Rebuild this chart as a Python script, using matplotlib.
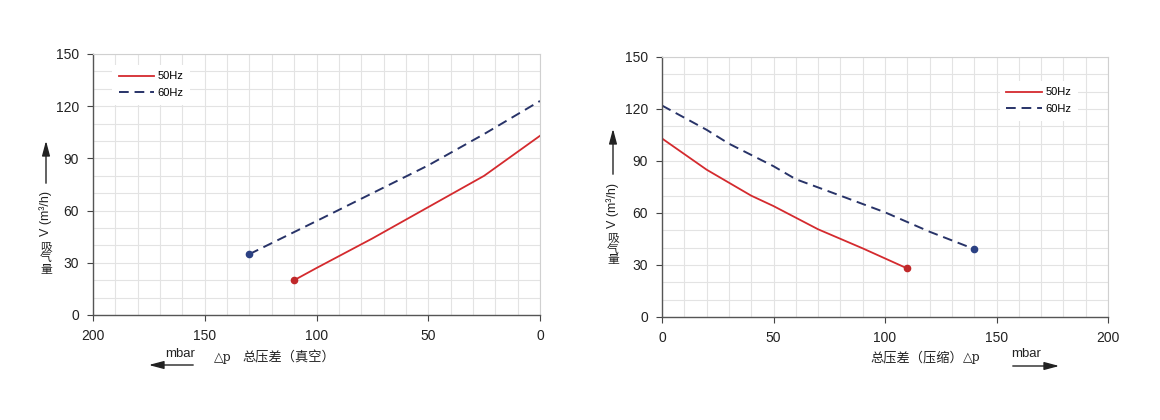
import matplotlib
matplotlib.use("Agg")
import matplotlib.pyplot as plt
from matplotlib.patches import FancyArrowPatch

plt.rcParams['font.family'] = ['Liberation Sans', 'Noto Sans CJK SC', 'DejaVu Sans']

# ---- data ----
vac_50_x = [110, 100, 75, 50, 25, 0]
vac_50_y = [20, 27, 44, 62, 80, 103]
vac_60_x = [130, 100, 75, 50, 25, 0]
vac_60_y = [35, 54, 70, 86, 104, 123]

comp_50_x = [0, 20, 40, 50, 70, 90, 110]
comp_50_y = [103, 85, 70, 64, 50.6, 39.6, 28]
comp_60_x = [0, 20, 30, 50, 60, 80, 100, 120, 140]
comp_60_y = [122, 108, 100, 87, 79.5, 70, 60.4, 49.2, 39.2]

series_labels = ["50Hz", "60Hz"]
x_ticks = [0, 50, 100, 150, 200]
y_ticks = [0, 30, 60, 90, 120, 150]
y_label_cjk = ["吸", "气", "量"]
y_label_unit = "V (m³/h)"
vac_label_sym = "△p"
vac_label = "总压差（真空）"
comp_label = "总压差（压缩）"
comp_label_sym = "△p"
unit_label = "mbar"

RED = "#d42a2e"
NAVY = "#283368"
RED_DOT = "#c0282a"
NAVY_DOT = "#2b4183"
TXT = "#222222"

fig = plt.figure(figsize=(11.6, 4.2), dpi=100)
W, H = 1160, 420

def fx(px):
    return px / W

def fy(py):
    return 1 - py / H

def style_axes(ax, invert):
    ax.set_xlim(200, 0) if invert else ax.set_xlim(0, 200)
    ax.set_ylim(0, 150)
    ax.set_xticks(x_ticks)
    ax.set_yticks(y_ticks)
    ax.set_xticks(range(0, 201, 10), minor=True)
    ax.set_yticks(range(0, 151, 10), minor=True)
    ax.grid(True, which='both', color='#e3e3e3', linewidth=0.8)
    ax.set_axisbelow(True)
    ax.tick_params(which='minor', length=0)
    ax.tick_params(which='major', direction='out', length=4, width=0.8,
                   color='#444444', labelsize=10, labelcolor=TXT, pad=6)
    for s in ['left', 'bottom']:
        ax.spines[s].set_color('#555555')
        ax.spines[s].set_linewidth(1.0)
    for s in ['top', 'right']:
        ax.spines[s].set_color('#d0d0d0')
        ax.spines[s].set_linewidth(0.8)

def arrow(x0, y0, x1, y1):
    a = FancyArrowPatch((fx(x0), fy(y0)), (fx(x1), fy(y1)), transform=fig.transFigure,
                        arrowstyle='-|>,head_length=9,head_width=2.4', color=TXT,
                        linewidth=1.0, mutation_scale=1)
    fig.patches.append(a)

def ylabel_block(x, y_chars, unit_y, arr_y0, arr_y1):
    for ch, yy in zip(y_label_cjk, y_chars):
        fig.text(fx(x), fy(yy), ch, ha='center', va='center', fontsize=8.5,
                 family=['Noto Sans CJK SC'], color=TXT)
    fig.text(fx(x), fy(unit_y), y_label_unit, ha='center', va='center', rotation=90,
             fontsize=9, color=TXT)
    arrow(x, arr_y0, x, arr_y1)

def legend(ax, anchor):
    ax.legend(loc='upper left', bbox_to_anchor=anchor, fontsize=8,
              frameon=True, facecolor='white', edgecolor='none', framealpha=1,
              handlelength=3.2, handletextpad=0.3, labelspacing=0.6,
              borderpad=0.6, fancybox=False)

# ---- left: vacuum ----
ax1 = fig.add_axes([fx(93), fy(315), fx(540) - fx(93), fy(54) - fy(315)])
style_axes(ax1, invert=True)
ax1.plot(vac_50_x, vac_50_y, color=RED, lw=1.3, label=series_labels[0])
ax1.plot(vac_60_x, vac_60_y, color=NAVY, lw=1.4, dashes=(5, 3), label=series_labels[1])
ax1.plot(vac_50_x[0], vac_50_y[0], 'o', color=RED_DOT, ms=4.5)
ax1.plot(vac_60_x[0], vac_60_y[0], 'o', color=NAVY_DOT, ms=4.5)
legend(ax1, (0.03, 0.98))

ylabel_block(46, [247, 258, 269], 214, 186, 138)
fig.text(fx(180), fy(354), unit_label, ha='center', va='center', fontsize=9.5, color=TXT)
arrow(196, 365, 146, 365)
fig.text(fx(214), fy(358), vac_label_sym, ha='left', va='center', fontsize=9,
         family=['DejaVu Serif'], color=TXT)
fig.text(fx(242), fy(358), vac_label, ha='left', va='center', fontsize=9.5,
         family=['Noto Sans CJK SC'], color=TXT)

# ---- right: compression ----
ax2 = fig.add_axes([fx(662), fy(317), fx(1108) - fx(662), fy(57) - fy(317)])
style_axes(ax2, invert=False)
ax2.plot(comp_50_x, comp_50_y, color=RED, lw=1.3, label=series_labels[0])
ax2.plot(comp_60_x, comp_60_y, color=NAVY, lw=1.4, dashes=(5, 3), label=series_labels[1])
ax2.plot(comp_50_x[-1], comp_50_y[-1], 'o', color=RED_DOT, ms=4.5)
ax2.plot(comp_60_x[-1], comp_60_y[-1], 'o', color=NAVY_DOT, ms=4.5)
legend(ax2, (0.745, 0.93))

ylabel_block(613, [238, 249, 260], 205, 177, 126)
fig.text(fx(870), fy(358), comp_label, ha='left', va='center', fontsize=9.5,
         family=['Noto Sans CJK SC'], color=TXT)
fig.text(fx(963), fy(358), comp_label_sym, ha='left', va='center', fontsize=9,
         family=['DejaVu Serif'], color=TXT)
fig.text(fx(1026), fy(354), unit_label, ha='center', va='center', fontsize=9.5, color=TXT)
arrow(1010, 366, 1062, 366)

fig.savefig("out.png", dpi=100)
